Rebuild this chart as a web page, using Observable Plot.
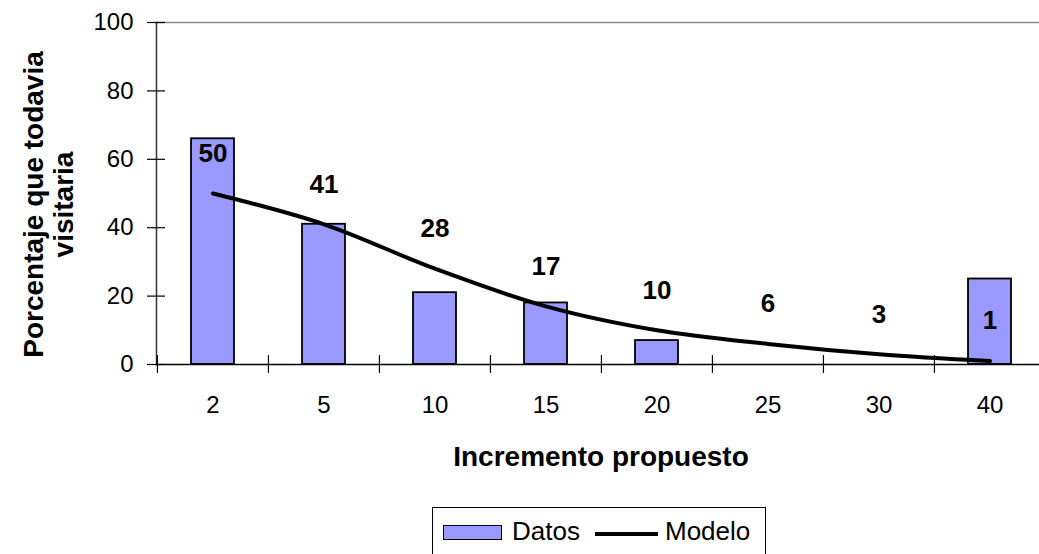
<!DOCTYPE html>
<html>
<head>
<meta charset="utf-8">
<script src="https://cdn.jsdelivr.net/npm/d3@7"></script>
<script src="https://cdn.jsdelivr.net/npm/@observablehq/plot@0.6"></script>
<style>
  html, body { margin: 0; padding: 0; background: #fff; overflow: hidden; }
  body { font-family: "Liberation Sans", Arial, sans-serif; position: relative; width: 1039px; height: 554px; }
  #chart { position: absolute; left: 0; top: 0; }
  #legend { position: absolute; left: 432px; top: 507px; width: 334px; height: 52px; border: 1px solid #000; box-sizing: border-box; font-size: 26px; }
  #legend span { position: absolute; }
  .sw { left: 10px; top: 17px; width: 59px; height: 15px; background: #9999FF; border: 1.5px solid #000; box-sizing: border-box; }
  .t1 { left: 79px; top: 8px; line-height: 30px; }
  .ln { left: 162px; top: 24px; width: 63px; height: 3.5px; background: #000; }
  .t2 { left: 232px; top: 8px; line-height: 30px; }
</style>
</head>
<body>
<div id="chart"></div>
<div id="legend"><span class="sw"></span><span class="t1">Datos</span><span class="ln"></span><span class="t2">Modelo</span></div>
<script>
const categories = ["2", "5", "10", "15", "20", "25", "30", "40"];
const datos = [66, 41, 21, 18, 7, 0, 0, 25];
const modelo = [50, 41, 28, 17, 10, 6, 3, 1];
const yTicks = [0, 20, 40, 60, 80, 100];

const rows = categories.map((c, i) => ({cat: c, datos: datos[i], modelo: modelo[i]}));

const W = 1045, H = 500, ML = 156, MR = 0, MT = 22, MB = H - 364;
const bw = (W - ML - MR) / categories.length;

const chart = Plot.plot({
  width: W,
  height: H,
  marginLeft: ML,
  marginRight: MR,
  marginTop: MT,
  marginBottom: MB,
  style: {fontFamily: "'Liberation Sans', Arial, sans-serif", fontSize: "24px", color: "#000", overflow: "visible", maxWidth: "none", background: "transparent"},
  x: {domain: categories, padding: 0, label: null},
  y: {domain: [0, 100], label: null},
  marks: [
    Plot.frame({anchor: "top", stroke: "#888", strokeWidth: 1.5}),
    Plot.barY(rows, {x: "cat", y: "datos", fill: "#9999FF", stroke: "#000", strokeWidth: 1.8, insetLeft: 34, insetRight: 34}),
    Plot.ruleY([0], {stroke: "#000", strokeWidth: 1.5}),
    Plot.frame({anchor: "left", stroke: "#333", strokeWidth: 1.5}),
    Plot.axisY({ticks: yTicks, tickSize: 18, dx: 9, tickFormat: () => "", strokeWidth: 1.2}),
    Plot.axisY({ticks: yTicks, tickSize: 0, tickPadding: 23, fontSize: 24}),
    Plot.ruleX(rows, {x: "cat", dx: -bw / 2, y1: -2.6, y2: 2.6, stroke: "#000", strokeWidth: 1.2}),
    Plot.axisX({tickSize: 0, tickPadding: 31, fontSize: 24, label: null}),
    Plot.line(rows, {x: "cat", y: "modelo", stroke: "#000", strokeWidth: 4, curve: "catmull-rom"}),
    Plot.text(rows, {x: "cat", y: "modelo", text: d => String(d.modelo), dy: -40, fontWeight: "bold", fontSize: 26}),
    Plot.text(["Incremento propuesto"], {frameAnchor: "bottom", dy: 101, fontWeight: "bold", fontSize: 28}),
    Plot.text(["Porcentaje que todavia\nvisitaria"], {frameAnchor: "left", textAnchor: "middle", dx: -108, dy: 11, rotate: -90, fontWeight: "bold", fontSize: 28, lineHeight: 1.08})
  ]
});
document.getElementById("chart").appendChild(chart);
</script>
</body>
</html>
